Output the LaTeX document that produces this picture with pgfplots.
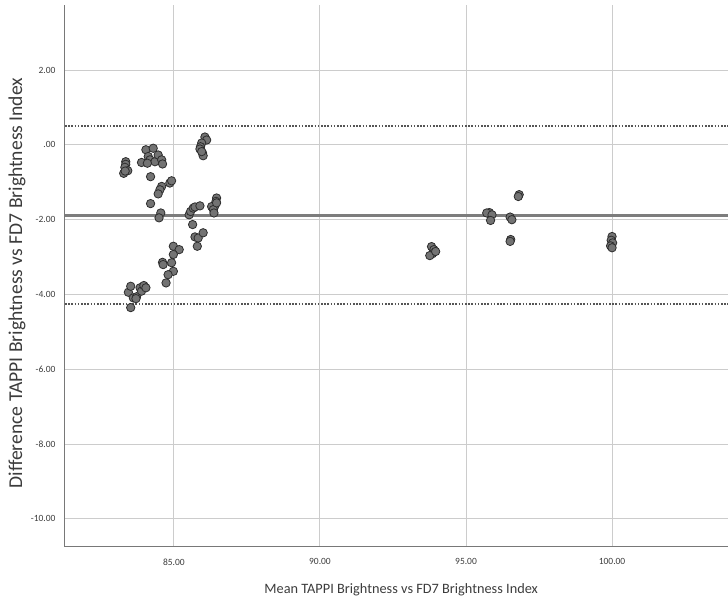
\documentclass[border=0pt]{standalone}
\usepackage{fontspec}
\setmainfont{Carlito}
\usepackage{pgfplots}
\pgfplotsset{compat=1.18}
\usetikzlibrary{calc}
\definecolor{gridgray}{RGB}{204,204,204}
\definecolor{spinegray}{RGB}{120,120,120}
\definecolor{meangray}{RGB}{125,125,125}
\definecolor{dotgray}{RGB}{85,85,85}
\definecolor{ptfill}{RGB}{115,115,115}
\definecolor{ptedge}{RGB}{45,45,45}
\definecolor{labelgray}{RGB}{60,60,60}

\begin{document}
\begin{tikzpicture}
\begin{axis}[
  scale only axis, width=663pt, height=542pt,
  xmin=81.27, xmax=103.97, ymin=-10.75, ymax=3.74,
  axis x line*=bottom, axis y line*=left,
  axis line style={spinegray, line width=1pt},
  xtick={85,90,95,100}, xticklabels={85.00,90.00,95.00,100.00},
  ytick={-10,-8,-6,-4,-2,0,2},
  yticklabels={-10.00,-8.00,-6.00,-4.00,-2.00,.00,2.00},
  major tick length=0pt,
  grid=major, grid style={gridgray, line width=1pt},
  tick label style={font=\fontsize{9.5}{10}\selectfont, text=labelgray},
  xticklabel style={yshift=-8pt},
  yticklabel style={xshift=-6pt},
  xlabel={Mean TAPPI Brightness vs FD7 Brightness Index},
  ylabel={Difference TAPPI Brightness vs FD7 Brightness Index},
  xlabel style={at={(axis description cs:0.507,-0.0793)}, anchor=center,
    font=\fontsize{14.3}{16}\selectfont, text=labelgray},
  ylabel style={at={(axis description cs:-0.0724,0.487)}, anchor=center,
    font=\fontsize{19.6}{21}\selectfont, text=labelgray},
]
% limits of agreement and mean difference
\addplot[dotgray, line width=1.5pt, dash pattern=on 1.6pt off 1.6pt]
  coordinates {(81.27,0.51)(103.97,0.51)};
\addplot[dotgray, line width=1.5pt, dash pattern=on 1.6pt off 1.6pt]
  coordinates {(81.27,-4.25)(103.97,-4.25)};
\addplot[meangray, line width=2.5pt]
  coordinates {(81.27,-1.89)(103.97,-1.89)};

% points
\addplot[only marks, mark=*, mark size=4.2pt,
  mark options={fill=ptfill, draw=ptedge, line width=0.8pt}] coordinates {
  (83.35,-0.45)(83.35,-0.52)(83.32,-0.60)(83.28,-0.76)(83.42,-0.69)(83.33,-0.70)
  (84.04,-0.13)(84.29,-0.09)(84.12,-0.31)(84.18,-0.40)(83.89,-0.47)
  (84.35,-0.45)(84.46,-0.27)(84.58,-0.40)(84.61,-0.51)(84.09,-0.49)
  (84.20,-0.85)
  (84.58,-1.11)(84.52,-1.20)(84.46,-1.31)(84.86,-1.02)(84.92,-0.96)
  (84.20,-1.57)(84.55,-1.82)(84.49,-1.95)
  (86.06,0.21)(86.12,0.13)(85.95,0.05)(85.91,-0.05)(85.89,-0.11)
  (85.98,-0.22)(86.00,-0.29)(85.95,-0.18)
  (85.52,-1.87)(85.57,-1.78)(85.66,-1.69)(85.72,-1.66)(85.89,-1.63)
  (85.64,-2.13)(85.72,-2.46)(85.83,-2.49)(86.00,-2.35)(85.80,-2.71)
  (86.46,-1.42)(86.44,-1.51)(86.40,-1.63)(86.29,-1.65)(86.35,-1.73)
  (86.37,-1.82)(86.46,-1.55)
  (84.98,-2.71)(85.18,-2.80)(84.98,-2.93)(84.92,-3.15)(84.98,-3.38)
  (84.80,-3.47)(84.73,-3.69)(84.61,-3.14)(84.63,-3.20)
  (83.44,-3.94)(83.52,-3.78)(83.61,-4.09)(83.52,-4.35)(83.72,-4.06)
  (83.84,-3.82)(83.89,-3.91)(83.97,-3.76)(84.04,-3.82)(83.70,-4.11)
  (93.82,-2.72)(93.90,-2.80)(93.85,-2.91)(93.76,-2.96)(93.96,-2.85)
  (95.80,-1.81)(95.71,-1.82)(95.89,-1.87)(95.84,-2.02)
  (96.51,-1.93)(96.57,-2.00)(96.53,-2.53)(96.51,-2.58)
  (96.82,-1.33)(96.79,-1.38)
  (100.00,-2.45)(99.97,-2.55)(100.02,-2.62)(99.95,-2.70)(100.00,-2.75)
};
\end{axis}
\pgfresetboundingbox
\path ($(current axis.south west)+(-65pt,-56pt)$) rectangle
      ($(current axis.north east)+(0pt,5pt)$);
\end{tikzpicture}
\end{document}
